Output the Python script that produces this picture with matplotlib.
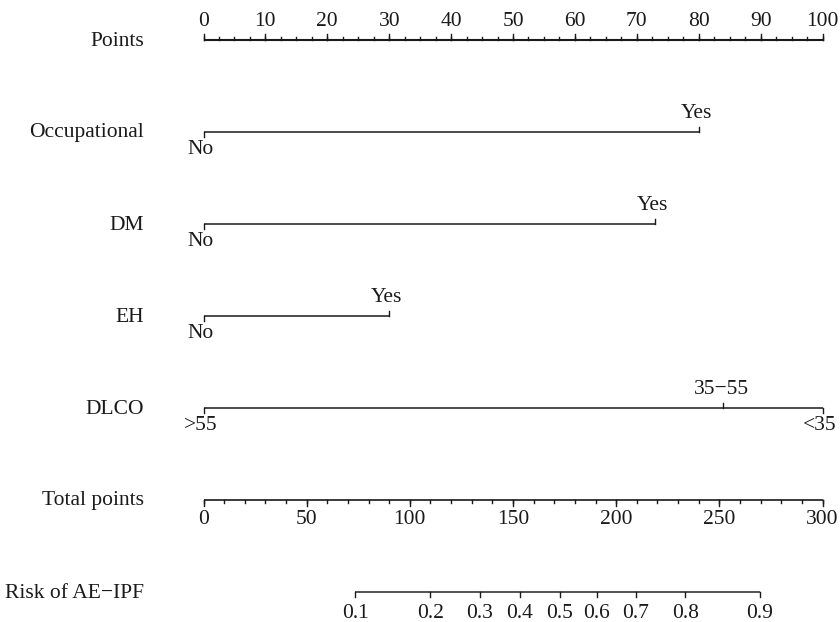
import matplotlib.pyplot as plt

plt.rcParams['font.family'] = ['Liberation Serif', 'DejaVu Serif']

# Nomogram data (points scale 0-100)
variables = ['Occupational', 'DM', 'EH', 'DLCO']
level_labels = [['No', 'Yes'], ['No', 'Yes'], ['No', 'Yes'],
                ['>55', '35\u221255', '<35']]
level_points = [[0, 80], [0, 73], [0, 30], [0, 84, 100]]

points_ticks = list(range(0, 101, 10))
total_ticks = list(range(0, 301, 50))
total_max = 300
risk_labels = [0.1, 0.2, 0.3, 0.4, 0.5, 0.6, 0.7, 0.8, 0.9]
risk_total = [73.6, 109.9, 133.8, 153.3, 172.6, 190.7, 209.5, 233.5, 269.7]

# Layout (y in pixels, x in points units)
rows_y = [40, 132, 224, 316, 408, 500, 592]
px = 6.19          # pixels per point
x0 = -203.5 / px   # left edge of figure in point units
label_x = (144 - 203.5) / px
fs = 15.5
col = '#1a1a1a'

fig = plt.figure(figsize=(8.4, 6.22), dpi=100)
ax = fig.add_axes([0, 0, 1, 1])
ax.set_xlim(x0, x0 + 840 / px)
ax.set_ylim(622, 0)
ax.axis('off')


def row_label(y, text):
    ax.text(label_x, y + 1, text, ha='right', va='center', fontsize=fs, color=col)


# Points axis
y = rows_y[0]
row_label(y, 'Points')
ax.plot([0, 100], [y, y], color=col, lw=1.5, solid_capstyle='butt')
minor = [i * 2.5 for i in range(41)]
for m in minor:
    ax.plot([m, m], [y, y - 3], color=col, lw=1)
for t in points_ticks:
    ax.plot([t, t], [y, y - 6], color=col, lw=1)
    ax.text(t, y - 19, str(t), ha='center', va='center', fontsize=fs, color=col)

# Variable rows
for i, (name, labs, pts) in enumerate(zip(variables, level_labels, level_points)):
    y = rows_y[i + 1]
    row_label(y, name)
    ax.plot([min(pts), max(pts)], [y, y], color=col, lw=1.1, solid_capstyle='butt')
    for j, (lab, p) in enumerate(zip(labs, pts)):
        side = 1 if j % 2 == 0 else -1
        ax.plot([p, p], [y, y + side * 5], color=col, lw=1)
        ax.text(p - 0.4, y + side * 18, lab, ha='center', va='center',
                fontsize=fs, color=col)

# Total points
y = rows_y[5]
row_label(y, 'Total points')
sc = 100 / total_max
ax.plot([0, total_max * sc], [y, y], color=col, lw=1.2, solid_capstyle='butt')
for m in range(0, total_max + 1, 10):
    ax.plot([m * sc, m * sc], [y, y + 3], color=col, lw=1)
for t in total_ticks:
    ax.plot([t * sc, t * sc], [y, y + 6], color=col, lw=1)
    ax.text(t * sc, y + 20, str(t), ha='center', va='center', fontsize=fs, color=col)

# Risk
y = rows_y[6]
row_label(y, 'Risk of AE\u2212IPF')
rx = [r * sc for r in risk_total]
ax.plot([rx[0], rx[-1]], [y, y], color='#333333', lw=1.2, solid_capstyle='butt')
for r, x in zip(risk_labels, rx):
    ax.plot([x, x], [y, y + 5], color=col, lw=1)
    ax.text(x, y + 21, f'{r:.1f}', ha='center', va='center', fontsize=fs, color=col)

fig.savefig('out.png', dpi=100)
